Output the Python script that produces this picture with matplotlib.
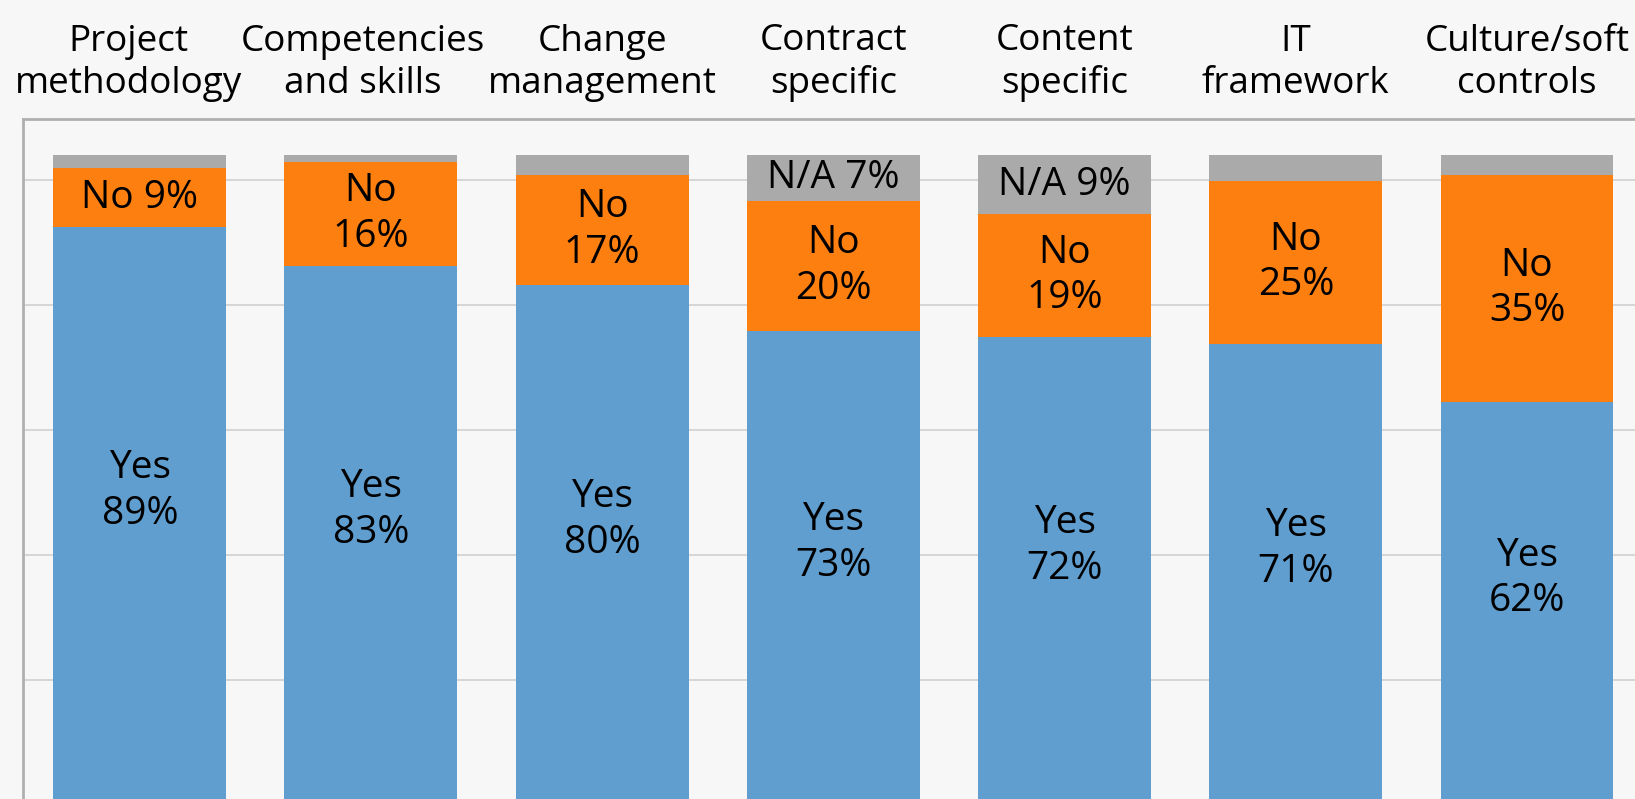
import matplotlib
matplotlib.use("Agg")
import matplotlib.pyplot as plt
import matplotlib.transforms as mtransforms
import numpy as np

# survey answers in percent per category
categories = [
    "Project\nmethodology",
    "Competencies\nand skills",
    "Change\nmanagement",
    "Contract\nspecific",
    "Content\nspecific",
    "IT\nframework",
    "Culture/soft\ncontrols",
]
yes_pct = [89, 83, 80, 73, 72, 71, 62]
no_pct = [9, 16, 17, 20, 19, 25, 35]
na_pct = [2, 1, 3, 7, 9, 4, 3]
respondents = 104  # gridlines are drawn per 20 respondents

plt.rcParams["font.family"] = ["Open Sans", "DejaVu Sans"]

fig = plt.figure(figsize=(16.35, 7.99), dpi=100)
fig.patch.set_facecolor("#f7f7f7")
ax = fig.add_axes([23 / 1635, 0, 1 - 23 / 1635, 1 - 119 / 799])
ax.set_facecolor("#f7f7f7")

x = np.arange(len(categories))
scale = respondents / 100
yes = np.array(yes_pct) * scale
no = np.array(no_pct) * scale
na = np.array(na_pct) * scale

width = 0.748
ax.bar(x, yes, width, color="#5f9ecf", zorder=2, linewidth=0)
ax.bar(x, no, width, bottom=yes, color="#fd7f0f", zorder=2, linewidth=0)
ax.bar(x, na, width, bottom=yes + no, color="#aaaaaa", zorder=2, linewidth=0)


def seg_label(name, pct):
    if pct < 10:
        return f"{name} {pct}%"
    return f"{name}\n{pct}%"


label_size = 28
for i in x:
    # yes label sits a bit above the middle of the visible part
    ax.text(i, (yes[i] + 8) / 2, seg_label("Yes", yes_pct[i]),
            ha="center", va="center", fontsize=label_size, zorder=3,
            linespacing=1.27)
    ax.text(i, yes[i] + no[i] / 2, seg_label("No", no_pct[i]),
            ha="center", va="center", fontsize=label_size, zorder=3,
            linespacing=1.27)
    if na_pct[i] >= 5:
        ax.text(i, yes[i] + no[i] + na[i] / 2, seg_label("N/A", na_pct[i]),
                ha="center", va="center", fontsize=label_size, zorder=3)

ax.set_xlim(-0.505, 6.467)
ax.set_ylim(0.91, 109.84)

ax.xaxis.tick_top()
ax.set_xticks(x)
ax.set_xticklabels(categories, fontsize=26.6, linespacing=1.22)
ax.tick_params(axis="x", length=0, pad=12)

# first two headers are pushed left a little so they don't collide
for lbl, dx in zip(ax.get_xticklabels()[:2], [-11.5, -8.5]):
    shift = mtransforms.ScaledTranslation(dx / 100, 0, fig.dpi_scale_trans)
    lbl.set_transform(lbl.get_transform() + shift)

ax.set_yticks(np.arange(20, 101, 20))
ax.tick_params(axis="y", length=0, labelleft=False)
ax.grid(axis="y", color="#d3d3d3", linewidth=1.3, zorder=0)

for side in ["right", "bottom"]:
    ax.spines[side].set_visible(False)
for side in ["top", "left"]:
    ax.spines[side].set_color("#b0b0b0")
    ax.spines[side].set_linewidth(2)

fig.savefig("out.png", dpi=100, facecolor=fig.get_facecolor())
